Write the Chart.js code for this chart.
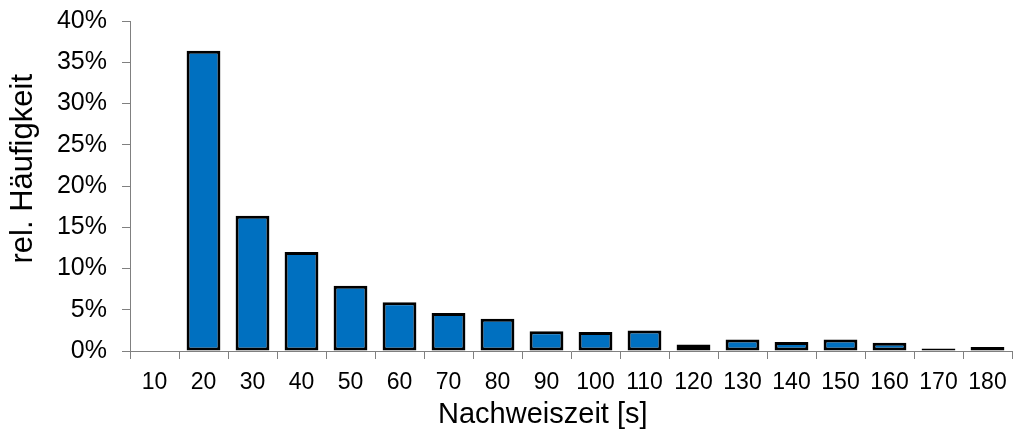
<!DOCTYPE html>
<html>
<head>
<meta charset="utf-8">
<script src="https://cdn.jsdelivr.net/npm/chart.js@4/dist/chart.umd.min.js"></script>
<style>
  html, body { margin: 0; padding: 0; background: #fff; }
  #wrap { width: 1013px; height: 435px; }
</style>
</head>
<body>
<div id="wrap"><canvas id="chart"></canvas></div>
<script>
// categories (Nachweiszeit in s) and relative frequency in percent
const zeiten = ['10', '20', '30', '40', '50', '60', '70', '80', '90', '100', '110', '120', '130', '140', '150', '160', '170', '180'];
const haeufigkeit = [0, 36.4, 16.4, 12.0, 7.9, 5.9, 4.6, 3.9, 2.4, 2.3, 2.5, 0.8, 1.4, 1.1, 1.4, 1.0, 0.3, 0.5];
const yTicks = [0, 5, 10, 15, 20, 25, 30, 35, 40];

const axisGray = '#808080';
const font = 'Liberation Sans, Arial, sans-serif';
const nb = '\u00a0';

new Chart(document.getElementById('chart').getContext('2d'), {
    type: 'bar',
    data: {
        labels: zeiten,
        datasets: [{
            data: haeufigkeit,
            backgroundColor: '#0070C0',
            borderColor: '#000000',
            borderWidth: 3,
            borderSkipped: false,
            barPercentage: 0.69,
            categoryPercentage: 1.0
        }]
    },
    options: {
        responsive: true,
        maintainAspectRatio: false,
        animation: false,
        layout: { padding: { top: 21, right: 1, bottom: 0, left: 0 } },
        plugins: {
            legend: { display: false },
            tooltip: { enabled: false }
        },
        scales: {
            x: {
                offset: true,
                grid: {
                    offset: true,
                    drawOnChartArea: false,
                    drawTicks: true,
                    tickLength: 8,
                    color: axisGray
                },
                border: { display: true, color: axisGray, width: 1 },
                ticks: {
                    color: '#000',
                    padding: 10,
                    maxRotation: 0,
                    autoSkip: false,
                    font: { family: font, size: 23 }
                },
                title: {
                    display: true,
                    // trailing spaces pull the title left like in the original
                    text: 'Nachweiszeit [s]' + nb.repeat(7),
                    color: '#000',
                    font: { family: font, size: 29 },
                    padding: { top: 0, bottom: 3 }
                },
                afterFit: s => { s.height = 84; s.paddingLeft = 0; s.paddingRight = 0; }
            },
            y: {
                min: 0,
                max: 40,
                afterBuildTicks: s => { s.ticks = yTicks.map(v => ({ value: v })); },
                grid: {
                    drawOnChartArea: false,
                    drawTicks: true,
                    tickLength: 8,
                    color: axisGray
                },
                border: { display: true, color: axisGray, width: 1 },
                ticks: {
                    color: '#000',
                    padding: 15,
                    font: { family: font, size: 25 },
                    callback: v => v + '%'
                },
                title: {
                    display: true,
                    text: nb.repeat(4) + 'rel. Häufigkeit',
                    color: '#000',
                    font: { family: font, size: 31 },
                    padding: { top: 5, bottom: 0 }
                },
                afterFit: s => { s.width = 130; s.paddingTop = 0; s.paddingBottom = 0; }
            }
        }
    }
});
</script>
</body>
</html>
